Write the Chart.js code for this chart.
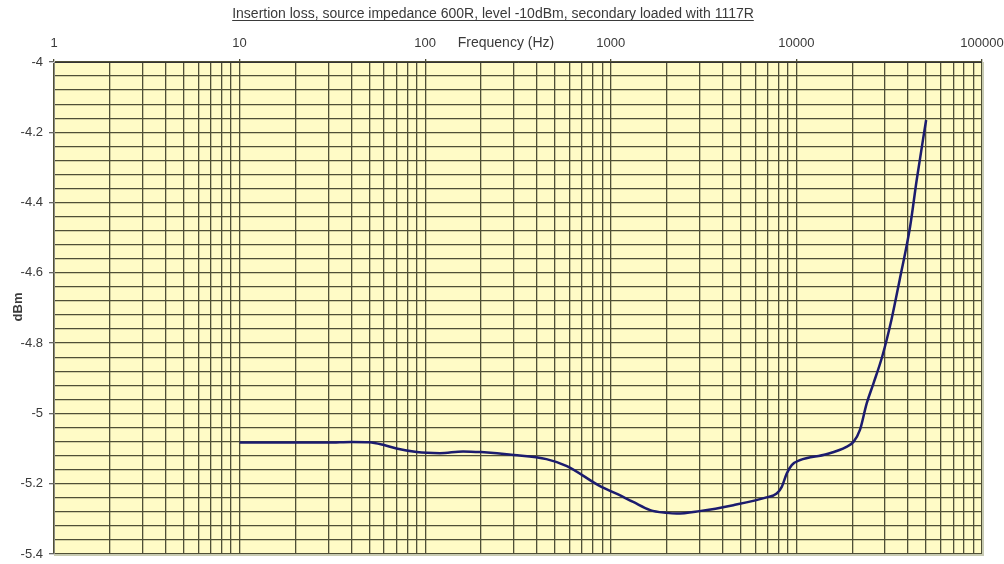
<!DOCTYPE html>
<html>
<head>
<meta charset="utf-8">
<script src="https://cdn.jsdelivr.net/npm/chart.js@4.4.1/dist/chart.umd.min.js"></script>
<style>
  html, body { margin: 0; padding: 0; background: #fff; }
  #wrap { width: 1004px; height: 564px; }
</style>
</head>
<body>
<div id="wrap"><canvas id="myChart" width="1004" height="564"></canvas></div>
<script>
// measured points (Hz, dBm)
const freqs = [10, 20, 30, 40, 50, 60, 70, 90, 120, 160, 200, 300, 450, 580, 875,
  1080, 1320, 1630, 2000, 2260, 3000, 4570, 6900, 7830, 8340, 8870, 9440, 10450, 14500, 18600,
  20300, 22000, 23900, 26000, 29000, 32500, 36000, 41000, 44500, 50000];
const levels = [-5.083, -5.083, -5.083, -5.081, -5.082, -5.09, -5.10, -5.11, -5.113, -5.108, -5.11, -5.118, -5.13, -5.15, -5.207,
  -5.229, -5.252, -5.275, -5.283, -5.285, -5.278, -5.261, -5.239, -5.228, -5.209, -5.171, -5.147, -5.133, -5.116, -5.095,
  -5.081, -5.047, -4.972, -4.915, -4.838, -4.734, -4.62, -4.468, -4.335, -4.165];

const xTickLabels = ['1', '10', '100', '1000', '10000', '100000'];
const yTickLabels = ['-4', '-4.2', '-4.4', '-4.6', '-4.8', '-5', '-5.2', '-5.4'];
const titleText = 'Insertion loss, source impedance 600R, level -10dBm, secondary loaded with 1117R';
const xTitle = 'Frequency (Hz)';
const yTitle = 'dBm';

const gridColor = '#4f4f36';
const textColor = '#3a3a3a';
const fontName = "'Liberation Sans', Arial, sans-serif";

// x grid at 1..9 of every decade
const xGrid = [];
for (let d = 0; d < 5; d++) {
  for (let m = 1; m < 10; m++) xGrid.push(m * Math.pow(10, d));
}
xGrid.push(100000);

// y grid every 0.04
const yGrid = [];
for (let i = 0; i <= 35; i++) yGrid.push(Math.round((-5.4 + i * 0.04) * 100) / 100);

function isMajorY(v) {
  return Math.round(v * 100) % 20 === 0;
}

// yellow plot area + frame, title and axis titles
const decorPlugin = {
  id: 'decor',
  beforeDraw(chart) {
    const { ctx, chartArea: a } = chart;
    ctx.save();
    ctx.fillStyle = '#fffbc6';
    ctx.fillRect(a.left, a.top, a.right - a.left, a.bottom - a.top);
    ctx.restore();
  },
  afterDraw(chart) {
    const { ctx, chartArea: a } = chart;
    ctx.save();
    ctx.strokeStyle = '#c8cbb2';
    ctx.lineWidth = 2;
    ctx.beginPath();
    ctx.moveTo(a.right + 1, a.top);
    ctx.lineTo(a.right + 1, a.bottom + 1);
    ctx.lineTo(a.left, a.bottom + 1);
    ctx.stroke();

    // title, underlined
    ctx.fillStyle = textColor;
    ctx.font = '14px ' + fontName;
    ctx.textAlign = 'center';
    ctx.textBaseline = 'alphabetic';
    ctx.fillText(titleText, 493, 18);
    const w = ctx.measureText(titleText).width;
    ctx.fillRect(493 - w / 2, 20, w, 1);

    // x axis title sits between tick labels
    ctx.fillText(xTitle, 506, 47);

    // y axis title
    ctx.translate(22, 307);
    ctx.rotate(-Math.PI / 2);
    ctx.font = 'bold 13px ' + fontName;
    ctx.fillText(yTitle, 0, 0);
    ctx.restore();
  }
};

const ctx = document.getElementById('myChart').getContext('2d');
new Chart(ctx, {
  type: 'line',
  data: {
    datasets: [{
      data: freqs.map((f, i) => ({ x: f, y: levels[i] })),
      borderColor: '#1c1c6e',
      borderWidth: 2.5,
      pointRadius: 0,
      cubicInterpolationMode: 'monotone',
      fill: false
    }]
  },
  options: {
    responsive: false,
    animation: false,
    devicePixelRatio: 1,
    layout: { padding: { left: 0, right: 22, top: 0, bottom: 10 } },
    plugins: {
      legend: { display: false },
      title: { display: false },
      tooltip: { enabled: false }
    },
    scales: {
      x: {
        type: 'logarithmic',
        position: 'top',
        min: 1,
        max: 100000,
        afterFit: (s) => { s.height = 62; s.paddingLeft = 0; s.paddingRight = 0; },
        afterBuildTicks: (s) => { s.ticks = xGrid.map((v) => ({ value: v })); },
        border: { color: '#333', width: 1 },
        grid: {
          color: gridColor,
          lineWidth: 1.3,
          drawTicks: true,
          tickLength: 3,
          tickColor: (c) => (xTickLabels.includes(String(c.tick.value)) ? gridColor : 'transparent')
        },
        ticks: {
          autoSkip: false,
          maxRotation: 0,
          padding: 8,
          color: textColor,
          font: { family: fontName, size: 13 },
          callback: (v) => (xTickLabels.includes(String(v)) ? String(v) : '')
        }
      },
      y: {
        min: -5.4,
        max: -4,
        afterFit: (s) => { s.width = 54; s.paddingTop = 0; s.paddingBottom = 0; },
        afterBuildTicks: (s) => { s.ticks = yGrid.map((v) => ({ value: v })); },
        border: { color: '#8a8a80', width: 1 },
        grid: {
          color: gridColor,
          lineWidth: 1.3,
          drawTicks: true,
          tickLength: 5,
          tickColor: (c) => (isMajorY(c.tick.value) ? '#666' : 'transparent')
        },
        ticks: {
          autoSkip: false,
          padding: 6,
          color: textColor,
          font: { family: fontName, size: 13 },
          callback: (v) => {
            if (!isMajorY(v)) return '';
            const lbl = String(Math.round(v * 10) / 10);
            return yTickLabels.includes(lbl) ? lbl : '';
          }
        }
      }
    }
  },
  plugins: [decorPlugin]
});
</script>
</body>
</html>
